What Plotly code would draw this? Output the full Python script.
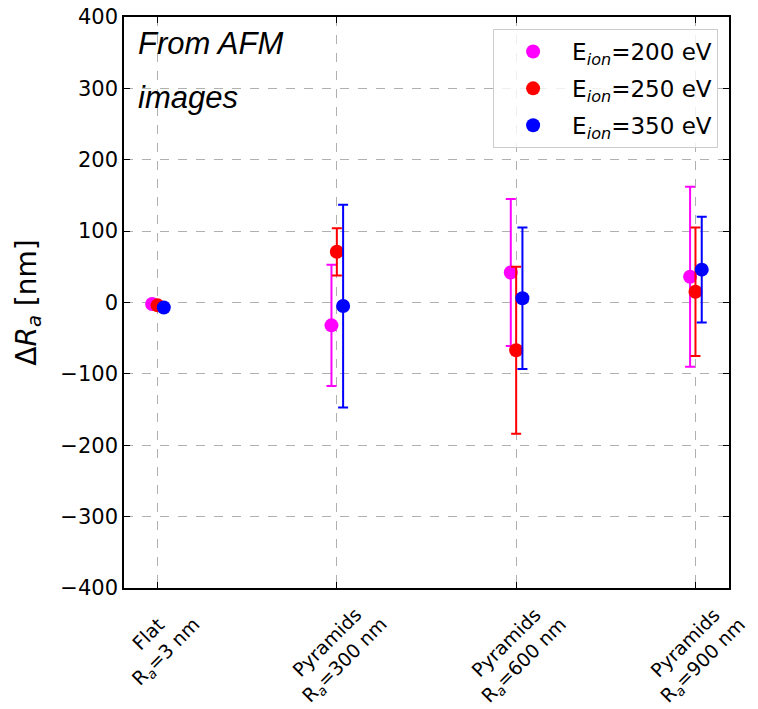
import plotly.graph_objects as go

categories = ["Flat<br>R<sub><i>a</i></sub>=3 nm",
              "Pyramids<br>R<sub><i>a</i></sub>=300 nm",
              "Pyramids<br>R<sub><i>a</i></sub>=600 nm",
              "Pyramids<br>R<sub><i>a</i></sub>=900 nm"]
cat_pos = [0, 1, 2, 3]

series_names = ["E<sub><i>ion</i></sub>=200 eV",
                "E<sub><i>ion</i></sub>=250 eV",
                "E<sub><i>ion</i></sub>=350 eV"]
series_offsets = [-0.03, 0.0, 0.035]
series_colors = ["#ff00ff", "#ff0000", "#0000ff"]

vals_200 = [-2, -32, 42, 36]
err_200 = [2, 85, 103, 126]
vals_250 = [-4, 71, -67, 15]
err_250 = [2, 33, 117, 90]
vals_350 = [-7, -5, 6, 46]
err_350 = [2, 142, 99, 74]

values = [vals_200, vals_250, vals_350]
errors = [err_200, err_250, err_350]

y_ticks = [-400, -300, -200, -100, 0, 100, 200, 300, 400]
y_ticktext = ["\u2212400", "\u2212300", "\u2212200", "\u2212100", "0", "100", "200", "300", "400"]

fig = go.Figure()
for i, (name, off, col, v, e) in enumerate(zip(series_names, series_offsets, series_colors, values, errors)):
    fig.add_trace(go.Scatter(
        x=[p + off for p in cat_pos], y=v, mode="markers", name=name,
        legendgroup=f"g{i}",
        marker=dict(color=col, size=14, line=dict(width=0)),
        error_y=dict(type="data", array=e, visible=True, color=col, thickness=2, width=5),
    ))

for p, lab in zip(cat_pos, categories):
    fig.add_annotation(x=p, y=0, xref="x", yref="paper", text=lab, showarrow=False,
                       textangle=-45, xanchor="center", yanchor="top", yshift=-5,
                       font=dict(family="DejaVu Sans", size=19, color="black"))

fig.add_annotation(x=0.02, y=0.987, xref="paper", yref="paper", text="<i>From AFM</i>",
                   showarrow=False, xanchor="left", yanchor="top",
                   font=dict(family="Liberation Sans", size=31, color="black"))
fig.add_annotation(x=0.02, y=0.893, xref="paper", yref="paper", text="<i>images</i>",
                   showarrow=False, xanchor="left", yanchor="top",
                   font=dict(family="Liberation Sans", size=31, color="black"))

axis_common = dict(showline=True, linecolor="black", linewidth=1.5, mirror="ticks",
                   ticks="inside", ticklen=6, tickwidth=1.2, tickcolor="black",
                   showgrid=True, gridcolor="#b0b0b0", griddash="dash", gridwidth=1,
                   zeroline=False, automargin=False)

fig.update_xaxes(range=[-0.187, 3.187], tickvals=cat_pos, showticklabels=False, **axis_common)
fig.update_yaxes(range=[-400, 400], tickvals=y_ticks, ticktext=y_ticktext,
                 tickfont=dict(family="DejaVu Sans", size=21, color="black"),
                 title=dict(text="\u0394<i>R</i><sub><i>a</i></sub> [nm]",
                            font=dict(family="DejaVu Sans", size=28, color="black"), standoff=16),
                 **axis_common)

fig.update_layout(
    width=758, height=709,
    margin=dict(l=124, r=29, t=17, b=121),
    paper_bgcolor="white", plot_bgcolor="white",
    showlegend=True,
    legend=dict(x=0.982, y=0.979, xanchor="right", yanchor="top",
                bgcolor="rgba(255,255,255,0.8)", bordercolor="#cccccc", borderwidth=1,
                font=dict(family="DejaVu Sans", size=23, color="black"),
                itemwidth=68, tracegroupgap=4),
)

fig.write_html("out.html")
